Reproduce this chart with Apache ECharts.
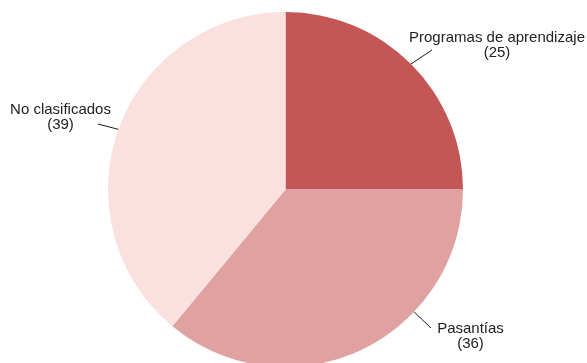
<!DOCTYPE html>
<html>
<head>
<meta charset="utf-8">
<script src="https://cdn.jsdelivr.net/npm/echarts@6/dist/echarts.min.js"></script>
<style>
  html, body { margin: 0; padding: 0; background: #fff; }
  #chart { width: 587px; height: 363px; }
</style>
</head>
<body>
<div id="chart"></div>
<script>
const categories = ['Programas de aprendizaje', 'Pasantías', 'No clasificados'];
const values = [25, 36, 39];
const colors = ['#c45656', '#e0a2a0', '#fae0df'];

// pie geometry (pixels)
const CENTER = [285.5, 189.5];
const RADIUS = 177.5;

// label placement: centre of each label block and the outer end of its leader line
const labelCentres = [[497, 45.5], [470.5, 336.5], [60.5, 117.5]];
const leaderEnds = [[432, 50], [431, 328], [98, 124]];

function rimToward(pt) {
  const dx = pt[0] - CENTER[0], dy = pt[1] - CENTER[1];
  const d = Math.sqrt(dx * dx + dy * dy);
  return [CENTER[0] + RADIUS * dx / d, CENTER[1] + RADIUS * dy / d];
}

const chart = echarts.init(document.getElementById('chart'), null, { renderer: 'canvas' });

chart.setOption({
  animation: false,
  backgroundColor: '#ffffff',
  series: [{
    type: 'pie',
    center: CENTER,
    radius: RADIUS,
    startAngle: 90,
    clockwise: true,
    avoidLabelOverlap: false,
    data: categories.map((name, i) => ({
      name: name,
      value: values[i],
      itemStyle: { color: colors[i] }
    })),
    itemStyle: { borderWidth: 0 },
    emphasis: { disabled: true },
    label: {
      show: true,
      position: 'outside',
      formatter: p => p.name + '\n(' + p.value + ')',
      fontFamily: '"Liberation Sans", Arial, sans-serif',
      fontSize: 15,
      lineHeight: 15,
      color: '#222222'
    },
    labelLine: {
      show: true,
      length: 22,
      length2: 0,
      smooth: false,
      lineStyle: { color: '#1a1a1a', width: 1 }
    },
    labelLayout: function (params) {
      const i = params.dataIndex;
      const end = leaderEnds[i];
      let start = params.labelLinePoints && params.labelLinePoints[0];
      // the bottom label is lifted clear of the lower edge, so its leader meets the rim nearer the label
      if (i === 1 || !start) start = rimToward(end);
      return {
        x: labelCentres[i][0],
        y: labelCentres[i][1],
        align: 'center',
        verticalAlign: 'middle',
        labelLinePoints: [start, end, end]
      };
    }
  }]
});
</script>
</body>
</html>
